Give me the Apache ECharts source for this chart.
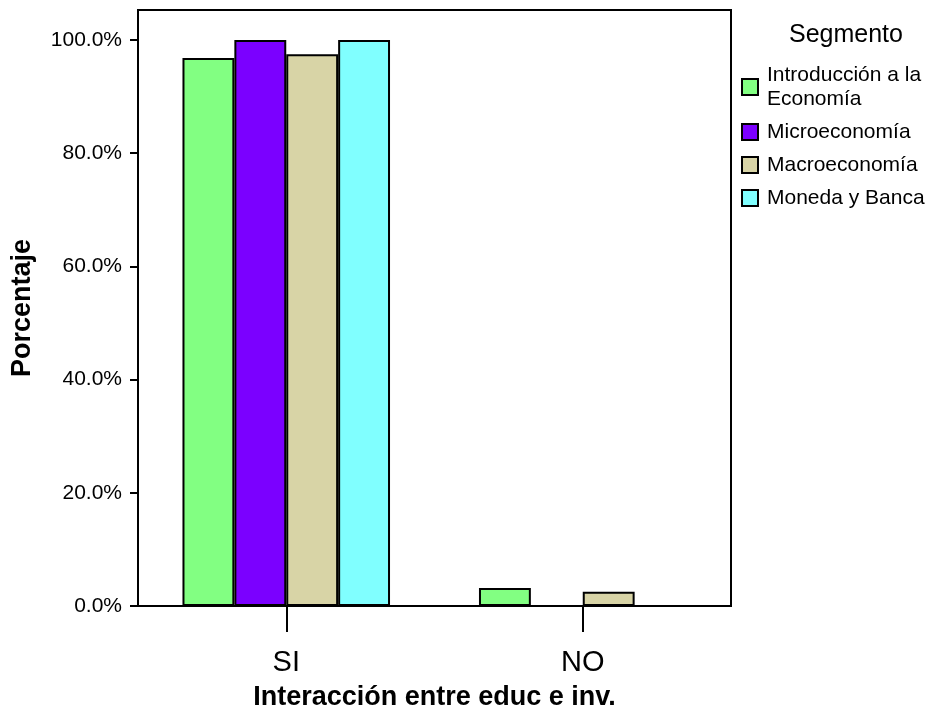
<!DOCTYPE html>
<html>
<head>
<meta charset="utf-8">
<script src="https://cdn.jsdelivr.net/npm/echarts@6/dist/echarts.min.js"></script>
<style>
html,body{margin:0;padding:0;background:#fff;}
#chart{width:941px;height:719px;}
</style>
</head>
<body>
<div id="chart"></div>
<script>
const categories = ['SI', 'NO'];
const seriesNames = ['Introducción a la Economía', 'Microeconomía', 'Macroeconomía', 'Moneda y Banca'];
const introEconomia = [96.8, 3.2];
const microeconomia = [100.0, 0.0];
const macroeconomia = [97.5, 2.5];
const monedaBanca = [100.0, 0.0];
const yTicks = [0, 20, 40, 60, 80, 100];
const seriesColors = ['#82FF82', '#7B00FF', '#D8D4A6', '#80FFFF'];

const FONT = 'Liberation Sans, Arial, sans-serif';
const chart = echarts.init(document.getElementById('chart'));
const values = [introEconomia, microeconomia, macroeconomia, monedaBanca];

chart.setOption({
  animation: false,
  backgroundColor: '#fff',
  textStyle: { fontFamily: FONT },
  title: {
    text: 'Segmento',
    left: 789,
    top: 23,
    padding: 0,
    textStyle: { fontSize: 25, fontWeight: 'normal', color: '#000', fontFamily: FONT }
  },
  legend: {
    orient: 'vertical',
    left: 741,
    top: 63,
    padding: 0,
    itemWidth: 16,
    itemHeight: 16,
    itemGap: 9,
    icon: 'rect',
    itemStyle: { borderColor: '#000', borderWidth: 2 },
    formatter: function (name) {
      return name === 'Introducción a la Economía' ? 'Introducción a la\nEconomía' : name;
    },
    textStyle: { fontSize: 21, lineHeight: 24, color: '#000', fontFamily: FONT, padding: [0, 0, 0, 4] },
    data: seriesNames
  },
  grid: {
    left: 138, right: 210, top: 10, bottom: 113,
    show: true, borderColor: '#000', borderWidth: 2, backgroundColor: 'transparent'
  },
  xAxis: {
    type: 'category',
    data: categories,
    name: 'Interacción entre educ e inv.',
    nameLocation: 'middle',
    nameGap: 78,
    nameTextStyle: { fontSize: 27, fontWeight: 'bold', color: '#000', fontFamily: FONT },
    axisLine: { show: true, lineStyle: { color: '#000', width: 2 } },
    axisTick: { show: true, alignWithLabel: true, length: 26, lineStyle: { color: '#000', width: 2 } },
    axisLabel: { fontSize: 29, color: '#000', margin: 42 }
  },
  yAxis: {
    type: 'value',
    min: 0,
    max: 105.3,
    interval: 20,
    name: 'Porcentaje',
    nameLocation: 'middle',
    nameGap: 102,
    nameTextStyle: { fontSize: 27, fontWeight: 'bold', color: '#000', fontFamily: FONT },
    axisLine: { show: true, lineStyle: { color: '#000', width: 2 } },
    axisTick: { show: true, length: 8, customValues: yTicks, lineStyle: { color: '#000', width: 2 } },
    axisLabel: {
      fontSize: 21, color: '#000', margin: 16,
      customValues: yTicks,
      formatter: function (v) { return v.toFixed(1) + '%'; }
    },
    splitLine: { show: false }
  },
  series: seriesNames.map(function (name, i) {
    return {
      name: name,
      type: 'bar',
      data: values[i],
      barGap: '0%',
      barCategoryGap: '30%',
      itemStyle: { color: seriesColors[i], borderColor: '#000', borderWidth: 2 }
    };
  })
});
</script>
</body>
</html>
